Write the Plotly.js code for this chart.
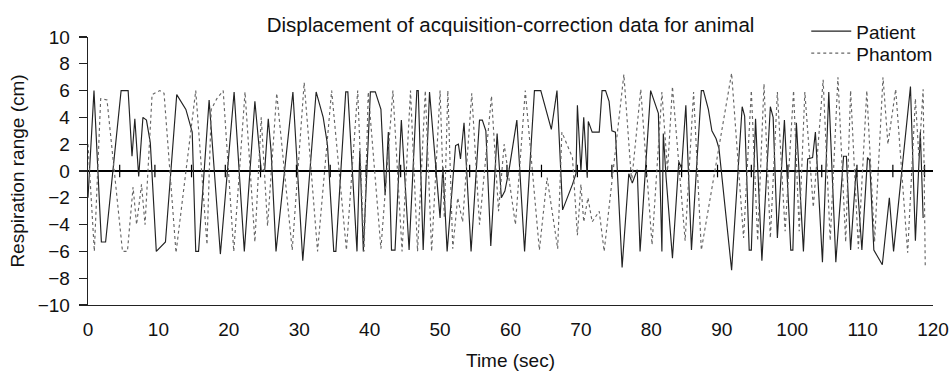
<!DOCTYPE html>
<html>
<head>
<meta charset="utf-8">
<script src="https://cdn.plot.ly/plotly-3.0.1.min.js"></script>
<style>
html,body{margin:0;padding:0;background:#fff;}
#chart{width:950px;height:380px;}
</style>
</head>
<body>
<div id="chart"></div>
<script>
// Patient (solid) : time (s) and displacement (cm)
const patientTime = [0,0.85,1.9,2.5,4.7,5.7,6.25,6.65,7.2,7.8,8.3,8.85,9.7,11.0,12.6,13.9,14.8,15.3,15.7,17.2,18.8,20.75,22.2,23.7,24.6,25.1,25.6,26.0,26.7,29.1,30.5,32.4,33.4,34.0,34.9,35.2,36.6,36.9,38.2,38.6,39.1,40.1,40.8,41.6,41.9,42.2,42.65,43.1,43.6,44.5,45.6,46.7,46.9,47.6,48.5,50.0,50.4,51.0,52.2,52.6,52.9,53.4,54.4,55.6,56.0,56.5,57.2,58.1,58.7,59.2,59.8,60.9,62.0,63.4,64.3,65.8,66.6,67.4,68.8,69.3,69.5,70.0,70.4,70.9,71.05,71.6,72.6,73.0,73.5,74.0,74.4,74.9,75.85,76.8,77.3,78.0,78.4,79.9,81.0,81.5,81.7,82.1,83.0,83.9,84.3,84.9,85.7,86.7,87.1,87.4,88.1,88.6,89.2,89.6,91.4,92.9,93.25,93.9,94.2,94.8,95.7,96.9,97.3,97.9,98.9,99.8,100.1,100.6,101.6,102.2,102.9,103.3,104.3,105.2,106.2,107.3,107.7,108.3,109.1,109.9,110.7,111.0,111.6,112.8,113.8,114.4,116.8,117.5,118.2,118.6];
const patientValue = [-2,6.0,-5.3,-5.3,6.0,6.0,1.1,3.9,-0.4,4.0,3.8,2.1,-6.0,-5.3,5.7,4.6,2.9,-6.0,-6.0,5.3,-6.2,5.9,-6.0,5.2,0,0.1,3.9,1.5,-6.0,5.9,-6.7,5.9,4.0,2.0,-6.0,-6.0,5.9,5.9,-6.0,1.5,-6.0,5.9,5.9,4.6,1.3,-1.8,2.9,-5.9,-5.9,3.8,-5.9,6.0,6.0,-5.9,5.9,-3.5,0.3,-6.0,1.9,2.0,0.9,3.6,-6.0,3.8,3.8,3.0,-5.6,2.8,-2.0,-1.5,0.1,3.8,-6.0,6.0,6.0,3.1,6.0,-2.9,-1.0,-0.2,4.9,0,4.0,-0.5,3.7,2.9,2.9,6.0,6.0,5.2,3.0,2.9,-7.2,-0.2,-0.9,0.1,-6.0,6.0,4.3,-6.0,2.8,-0.5,-6.5,0.7,0.2,4.9,-5.9,2.0,6.0,6.0,4.6,3.0,2.4,1.7,-7.4,4.8,4.1,-5.9,-5.9,3.9,-6.7,4.8,4.0,-5.0,3.8,-5.9,-5.9,3.6,-6.0,0.9,1.0,2.9,-6.8,5.9,-6.8,1.1,1.1,-5.9,0.2,-5.9,1.0,0.8,-5.9,-7.0,-2.0,-6.0,6.3,-5.2,2.9,-3.5];

// Phantom (dotted)
const phantomTime = [0,0.9,1.8,2.7,4.9,5.6,6.4,6.9,7.6,8.1,9.1,10.2,10.8,12.5,15.3,16.9,17.5,18.3,19.2,20.7,22.3,23.7,24.6,25.5,26.8,29.0,30.7,32.6,34.6,36.7,38.3,39.2,39.8,41.6,43.3,44.6,45.8,46.8,47.9,48.8,50.0,50.6,51.1,51.8,52.5,53.2,54.5,55.6,57.3,58.3,59.1,60.7,62.1,64.1,65.2,66.7,67.3,68.3,68.8,69.5,70.0,70.4,71.0,71.6,72.6,73.3,76.1,77.2,78.5,80.1,81.5,82.3,83.0,84.8,86.0,87.1,91.4,93.1,94.2,95.1,96.0,96.9,97.9,99.0,100.2,101.0,101.8,103.0,104.4,105.4,106.5,107.6,108.3,109.4,110.6,111.7,112.9,113.6,114.7,116.4,117.5,118.0,118.6,118.9];
const phantomValue = [2.0,-6.0,5.4,5.3,-6.0,-6.0,-1.2,-4.0,-1.0,-4.0,5.7,6.0,5.8,-6.1,6.0,-5.5,4.6,5.4,6.0,-6.0,5.9,-5.3,4.0,-4.1,5.8,-5.9,6.6,-6.0,6.0,-5.9,6.0,-6.0,5.9,-5.8,6.0,-6.0,6.0,-6.0,6.0,-6.0,6.0,-3.5,6.0,-5.8,-2.0,-3.8,5.8,-4.0,5.6,-3.0,2.0,-4.0,6.0,-5.9,-0.5,-5.8,2.9,1.7,1.0,-4.8,-1.0,-3.8,-2.0,-3.8,-3.0,-6.0,7.2,-0.8,6.1,-5.5,5.9,0,6.3,-5.2,5.9,-5.9,7.3,-5.0,6.0,-5.2,6.5,-5.0,5.9,-4.5,6.0,-4.5,5.9,-2.7,6.8,-5.2,7.0,-5.3,6.0,-5.8,6.0,-5.3,7.0,2.0,6.1,-6.1,5.4,1.0,6.1,-7.1];

// Small marks drawn on the zero line
const markTime = [4.5,9.5,14.7,19.5,24.5,29.6,34.4,39.5,44.4,49.4,54.2,59.5,64.4,69.5,74.4,79.3,84.3,89.4,94.2,99.4,104.2,109.2,114.3,118.8];

const yTicks = [-10,-8,-6,-4,-2,0,2,4,6,8,10];
const xTicks = [0,10,20,30,40,50,60,70,80,90,100,110,120];

const FONT = 'Liberation Sans, Arial, Helvetica, sans-serif';

const traces = [
  {
    x: markTime, y: markTime.map(() => 0), mode: 'markers', showlegend: false, hoverinfo: 'skip',
    marker: {symbol: 'line-ns-open', size: 9, line: {color: '#000', width: 1.2}, color: '#000'}
  },
  {
    name: 'Patient', x: patientTime, y: patientValue, mode: 'lines', legend: 'legend',
    line: {color: '#222', width: 1.15}
  },
  {
    name: 'Phantom', x: phantomTime, y: phantomValue, mode: 'lines', legend: 'legend2',
    line: {color: '#666', width: 1.15, dash: 'dot'}
  }
];

const legendBase = {xanchor: 'left', yanchor: 'top', bgcolor: 'rgba(0,0,0,0)',
                    font: {family: FONT, size: 19, color: '#111'}, itemwidth: 40};

const layout = {
  width: 950, height: 380,
  paper_bgcolor: '#fff', plot_bgcolor: '#fff',
  margin: {l: 88, r: 15, t: 27, b: 75},
  font: {family: FONT, color: '#111', size: 19},
  title: {text: 'Displacement of acquisition-correction data for animal', font: {family: FONT, size: 20.5, color: '#111'},
          x: 0.5, xref: 'paper', xanchor: 'center', y: 0.935, yref: 'container', yanchor: 'middle'},
  showlegend: true,
  legend: Object.assign({}, legendBase, {x: 0.850, y: 1.092}),
  legend2: Object.assign({}, legendBase, {x: 0.850, y: 1.010}),
  xaxis: {
    range: [0, 120], tickvals: xTicks, ticktext: xTicks.map(String),
    showline: true, linecolor: '#222', linewidth: 1.3, ticks: 'outside', ticklen: 7, tickcolor: 'rgba(0,0,0,0)',
    showgrid: false, zeroline: false, ticklabeloverflow: 'allow',
    tickfont: {family: FONT, size: 19, color: '#111'},
    title: {text: 'Time (sec)', font: {family: FONT, size: 19, color: '#111'}, standoff: 14}
  },
  yaxis: {
    range: [-10, 10], tickvals: yTicks, ticktext: yTicks.map(v => v < 0 ? '\u2212' + Math.abs(v) : String(v)),
    showline: true, linecolor: '#222', linewidth: 1.3, ticks: 'outside', ticklen: 8, tickwidth: 1.2, tickcolor: '#222',
    ticklabelstandoff: 5,
    showgrid: false, zeroline: true, zerolinecolor: '#000', zerolinewidth: 1.6,
    tickfont: {family: FONT, size: 19, color: '#111'},
    title: {text: 'Respiration range (cm)', font: {family: FONT, size: 19, color: '#111'}, standoff: 8}
  }
};

Plotly.newPlot('chart', traces, layout, {displayModeBar: false, staticPlot: true});
</script>
</body>
</html>
